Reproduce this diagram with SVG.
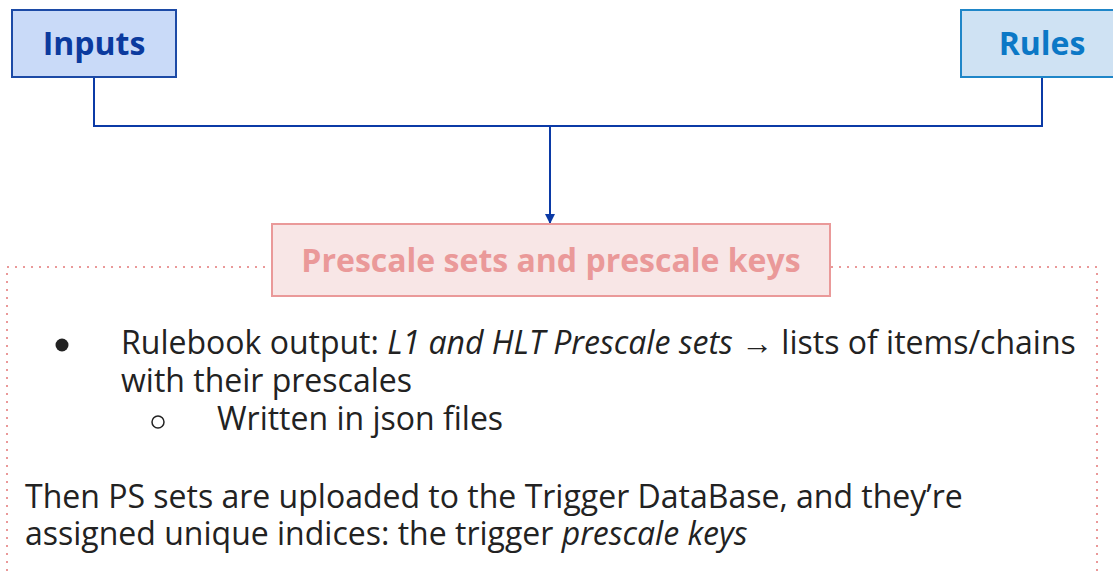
<svg xmlns="http://www.w3.org/2000/svg" width="1113" height="575" viewBox="0 0 1113 575">
<style>
.t{font-family:"Open Sans","Noto Sans",sans-serif;}
.b{font-weight:bold;font-size:32px;}
.body{font-size:32px;fill:#222222;}
.conn{stroke:#0b3aa6;stroke-width:2;fill:none;}
</style>
<defs>
<marker id="arr" viewBox="0 0 10 10" refX="10" refY="5" markerWidth="5" markerHeight="5" orient="auto" markerUnits="strokeWidth">
<path d="M0,0 L10,5 L0,10 z" fill="#0b3aa6"/>
</marker>
</defs>
<rect x="0" y="0" width="1113" height="575" fill="#ffffff"/>
<rect x="7" y="267" width="1090" height="330" fill="none" stroke="#ea9999" stroke-width="2" stroke-dasharray="2,6"/>
<g id="connectors">
<path class="conn" d="M94,77 V126 H1042 V77"/>
<path class="conn" d="M550,126 V224" marker-end="url(#arr)"/>
</g>
<g id="inputs">
<rect x="12" y="10" width="164" height="67" fill="#c9daf8" stroke="#1c4aa6" stroke-width="2"/>
<text class="t b" x="94" y="55" text-anchor="middle" fill="#0b3a9e">Inputs</text>
</g>
<g id="rules">
<rect x="961" y="10" width="160" height="67" fill="#cfe2f3" stroke="#1f86c8" stroke-width="2"/>
<text class="t b" x="1042" y="55" text-anchor="middle" fill="#0b78c6">Rules</text>
</g>
<g id="prescale">
<rect x="272" y="224" width="558" height="72" fill="#f8e6e6" stroke="#ea9999" stroke-width="2"/>
<text class="t b" x="551" y="272" text-anchor="middle" fill="#ea9999">Prescale sets and prescale keys</text>
</g>
<g id="body">
<circle cx="62" cy="345" r="6.5" fill="#222222"/>
<text class="t body" x="121" y="354">Rulebook output: <tspan font-style="italic">L1 and HLT Prescale sets</tspan> → lists of items/chains</text>
<text class="t body" x="121" y="392">with their prescales</text>
<circle cx="158" cy="422" r="6" fill="none" stroke="#222222" stroke-width="1.5"/>
<text class="t body" x="217" y="430">Written in json files</text>
<text class="t body" x="25" y="508">Then PS sets are uploaded to the Trigger DataBase, and they’re</text>
<text class="t body" x="25" y="545">assigned unique indices: the trigger <tspan font-style="italic">prescale keys</tspan></text>
</g>
</svg>
